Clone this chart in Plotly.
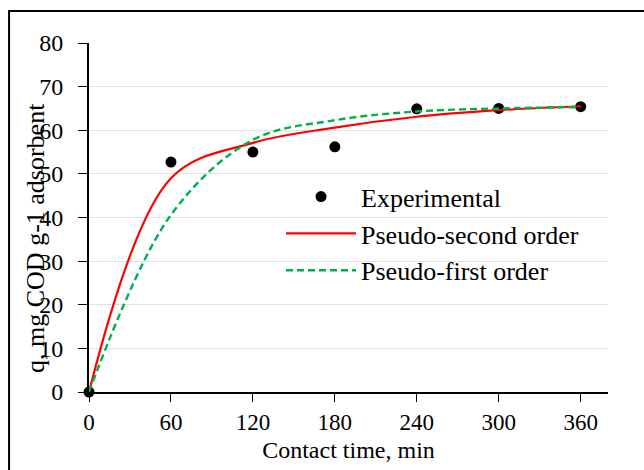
import plotly.graph_objects as go

time_min = [0, 60, 120, 180, 240, 300, 360]
q_experimental = [0, 52.7, 55.0, 56.2, 64.9, 65.0, 65.4]
q_pseudo_second = [0, 49.0, 57.1, 60.6, 63.1, 64.6, 65.5]
q_pseudo_first = [0, 40.6, 57.8, 62.3, 64.3, 65.0, 65.3]
x_ticks = [0, 60, 120, 180, 240, 300, 360]
y_ticks = [0, 10, 20, 30, 40, 50, 60, 70, 80]

FONT = "Liberation Serif"

fig = go.Figure()
fig.add_trace(go.Scatter(
    x=time_min, y=q_experimental, mode="markers", name="Experimental",
    marker=dict(color="black", size=11), cliponaxis=False))
fig.add_trace(go.Scatter(
    x=time_min, y=q_pseudo_second, mode="lines", name="Pseudo-second order",
    line=dict(color="#FF0000", width=2.2, shape="spline", smoothing=1.0)))
fig.add_trace(go.Scatter(
    x=time_min, y=q_pseudo_first, mode="lines", name="Pseudo-first order",
    line=dict(color="#00B050", width=2.4, dash="7px,4px", shape="spline", smoothing=1.0)))

fig.update_layout(
    width=644, height=470,
    margin=dict(l=89, r=36, t=43, b=78),
    paper_bgcolor="white", plot_bgcolor="white",
    font=dict(family=FONT, color="black", size=24),
    showlegend=True,
    legend=dict(x=0.37, y=0.627, xanchor="left", yanchor="top",
                bgcolor="rgba(255,255,255,0)", font=dict(size=26, family=FONT),
                itemwidth=70, tracegroupgap=0),
    xaxis=dict(range=[0, 380], tickvals=x_ticks, ticktext=[str(v) for v in x_ticks],
               showgrid=False, zeroline=False, showline=True, linecolor="black", linewidth=2,
               ticks="outside", ticklen=8, tickwidth=1, tickcolor="black",
               tickfont=dict(size=23, family=FONT),
               title=dict(text="Contact time, min", font=dict(size=24, family=FONT), standoff=8)),
    yaxis=dict(range=[0, 80], tickvals=y_ticks, ticktext=[str(v) for v in y_ticks],
               showgrid=True, gridcolor="#E3E3E3", gridwidth=1, zeroline=False,
               showline=True, linecolor="black", linewidth=2,
               ticks="outside", ticklen=9, tickwidth=1, tickcolor="black",
               ticklabelstandoff=10,
               tickfont=dict(size=24, family=FONT)),
    annotations=[dict(text="q, mg COD g-1 adsorbent", textangle=-90,
                      xref="paper", yref="paper", x=-0.103, y=0.44,
                      xanchor="center", yanchor="middle", showarrow=False,
                      font=dict(size=26, family=FONT))],
    shapes=[dict(type="rect", xref="paper", yref="paper",
                 x0=-0.154, x1=1.3, y0=-0.4, y1=1.092,
                 line=dict(color="black", width=2), layer="below")],
)

fig.write_html("out.html")
